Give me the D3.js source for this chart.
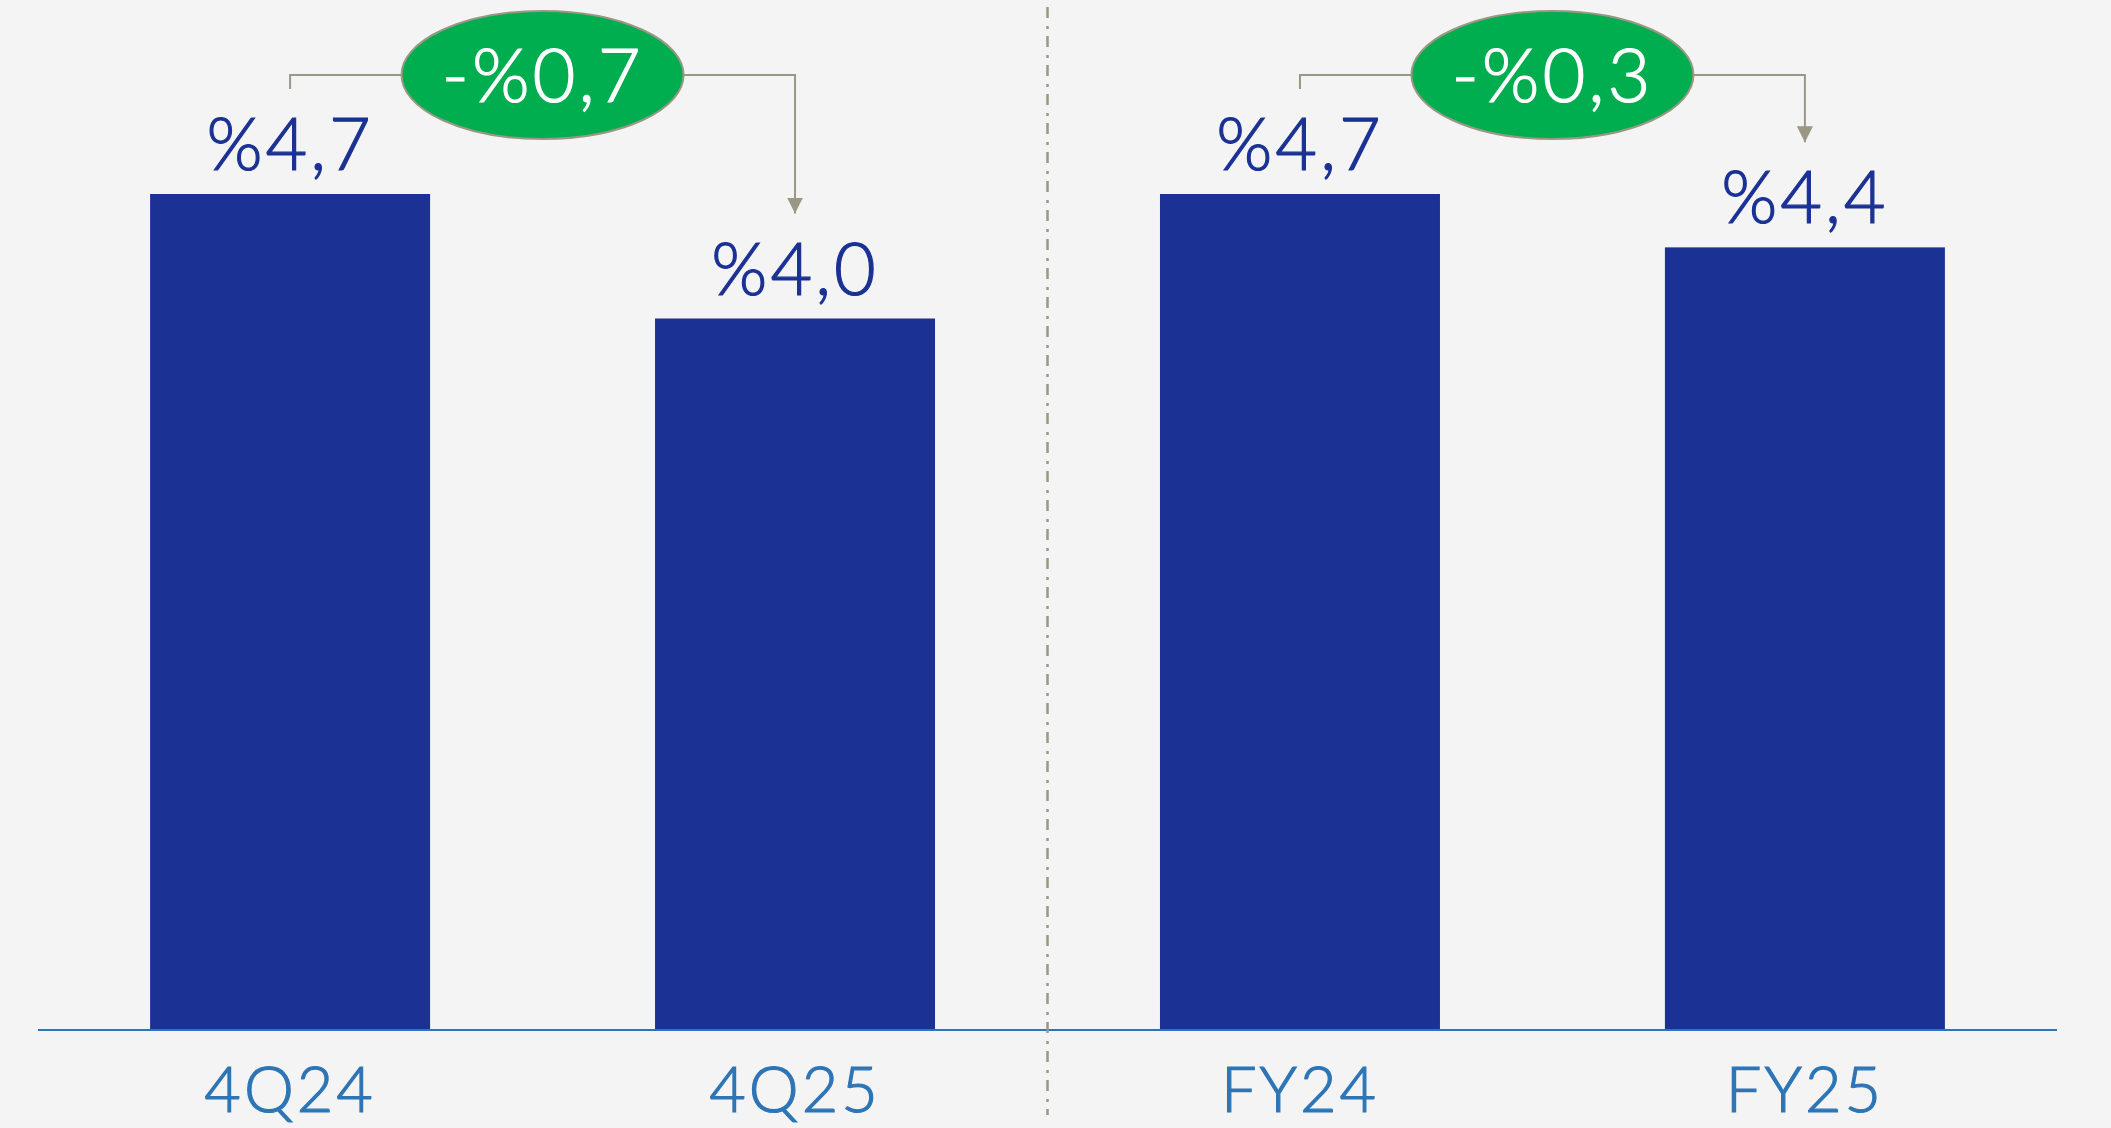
<!DOCTYPE html>
<html>
<head>
<meta charset="utf-8">
<script src="https://cdn.jsdelivr.net/npm/d3@7"></script>
<style>
  html, body { margin: 0; padding: 0; background: #f4f4f4; }
  svg { display: block; }
</style>
</head>
<body>
<svg id="chart" width="2111" height="1128"></svg>
<script>
// Ratio values per period
const categories = ["4Q24", "4Q25", "FY24", "FY25"];
const values = [4.7, 4.0, 4.7, 4.4];

// Change bubbles: each links a starting bar to an ending bar
const changeFrom = [0, 2];
const changeTo = [1, 3];

const W = 2111, H = 1128;
const svg = d3.select("#chart");

const fontFamily = "Lato, 'Noto Sans', sans-serif";
const barColor = "#1b3294";
const axisColor = "#2e75b6";
const connectorColor = "#9a9784";
const bubbleColor = "#00ae50";

const fmt = v => d3.format(".1f")(v).replace(".", ",");

// Light text with a thin outline in its own colour for a slightly heavier stroke
const lightText = (sel, color) => sel
  .attr("font-family", fontFamily)
  .attr("font-weight", 300)
  .attr("letter-spacing", 3)
  .attr("fill", color)
  .attr("stroke", color)
  .attr("stroke-width", 1.2);

const x = d3.scaleBand()
  .domain(categories)
  .range([38, 2057])
  .paddingInner(0.4455)
  .paddingOuter(0.222);

const y = d3.scaleLinear()
  .domain([0, 4.7])
  .range([1030, 194]);

svg.append("rect").attr("width", W).attr("height", H).attr("fill", "#f4f4f4");

// Bars
svg.append("g").selectAll("rect")
  .data(values)
  .join("rect")
  .attr("x", (d, i) => x(categories[i]))
  .attr("y", d => y(d))
  .attr("width", x.bandwidth())
  .attr("height", d => y(0) - y(d))
  .attr("fill", barColor);

// Value labels
svg.append("g").selectAll("text")
  .data(values)
  .join("text")
  .attr("x", (d, i) => x(categories[i]) + x.bandwidth() / 2)
  .attr("y", d => y(d) - 24)
  .attr("text-anchor", "middle")
  .attr("font-size", 72)
  .call(lightText, barColor)
  .text(d => "%" + fmt(d));

// Baseline axis with category labels
const xAxis = d3.axisBottom(x).tickSize(0).tickPadding(0);
const axisG = svg.append("g")
  .attr("transform", `translate(0,${y(0)})`)
  .call(xAxis);
axisG.select(".domain")
  .attr("d", `M38,0H2057`)
  .attr("stroke", axisColor)
  .attr("stroke-width", 2);
axisG.selectAll(".tick text")
  .attr("dy", 0)
  .attr("y", 82)
  .attr("font-size", 63)
  .call(lightText, axisColor);

// Dash-dot divider between the quarterly and full-year groups
const divX = (x(categories[1]) + x.bandwidth() + x(categories[2])) / 2;
svg.append("line")
  .attr("x1", divX).attr("x2", divX)
  .attr("y1", 7).attr("y2", 1115)
  .attr("stroke", connectorColor)
  .attr("stroke-width", 2.5)
  .attr("stroke-dasharray", "11,8,3,7");

// Arrow marker
svg.append("defs").append("marker")
  .attr("id", "arrow")
  .attr("viewBox", "0 0 16 16")
  .attr("refX", 8).attr("refY", 16)
  .attr("markerWidth", 16).attr("markerHeight", 16)
  .attr("markerUnits", "userSpaceOnUse")
  .attr("orient", "0")
  .append("path")
  .attr("d", "M0,0L16,0L8,16Z")
  .attr("fill", connectorColor);

const bubbleY = 75, rx = 141, ry = 64;

changeFrom.forEach((fi, k) => {
  const ti = changeTo[k];
  const cx0 = x(categories[fi]) + x.bandwidth() / 2;
  const cx1 = x(categories[ti]) + x.bandwidth() / 2;
  const mid = (cx0 + cx1) / 2;
  const g = svg.append("g");

  g.append("path")
    .attr("d", `M${cx0},${y(values[fi]) - 105}V${bubbleY}H${mid}`)
    .attr("fill", "none")
    .attr("stroke", connectorColor)
    .attr("stroke-width", 2);
  g.append("path")
    .attr("d", `M${mid},${bubbleY}H${cx1}V${y(values[ti]) - 105}`)
    .attr("fill", "none")
    .attr("stroke", connectorColor)
    .attr("stroke-width", 2)
    .attr("marker-end", "url(#arrow)");

  g.append("ellipse")
    .attr("cx", mid).attr("cy", bubbleY)
    .attr("rx", rx).attr("ry", ry)
    .attr("fill", bubbleColor)
    .attr("stroke", connectorColor)
    .attr("stroke-width", 2);

  const diff = values[ti] - values[fi];
  g.append("text")
    .attr("x", mid).attr("y", bubbleY + 27)
    .attr("text-anchor", "middle")
    .attr("font-size", 74)
    .call(lightText, "#ffffff")
    .text((diff < 0 ? "-" : "+") + "%" + fmt(Math.abs(diff)));
});
</script>
</body>
</html>
